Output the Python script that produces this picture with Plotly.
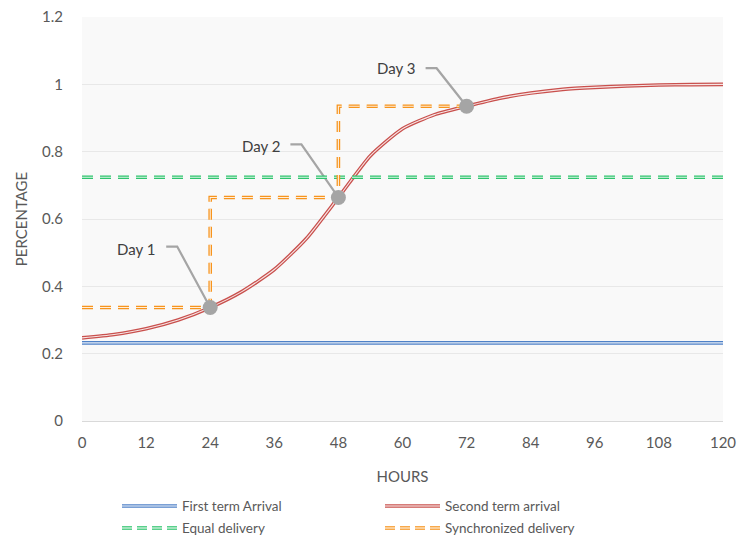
import plotly.graph_objects as go

# ---------------- data ----------------
hours = [0, 6, 12, 18, 24, 30, 36, 42, 48, 54, 60, 66, 72, 78, 84, 90, 96, 102, 108, 114, 120]
second_term_arrival = [0.247, 0.257, 0.274, 0.300, 0.337, 0.385, 0.450, 0.542, 0.664, 0.788, 0.868, 0.910,
                       0.935, 0.958, 0.974, 0.985, 0.991, 0.995, 0.998, 0.999, 1.000]
first_term_hours = [0, 120]
first_term_arrival = [0.232, 0.232]
equal_hours = [0, 120]
equal_delivery = [0.724, 0.724]
sync_hours = [0, 24, 24, 48, 48, 72]
sync_delivery = [0.337, 0.337, 0.664, 0.664, 0.935, 0.935]
day_hours = [24, 48, 72]
day_values = [0.337, 0.664, 0.935]
day_labels = ["Day 1", "Day 2", "Day 3"]
x_ticks = [0, 12, 24, 36, 48, 60, 72, 84, 96, 108, 120]
y_ticks = [0, 0.2, 0.4, 0.6, 0.8, 1.0, 1.2]
y_tick_text = ["0", "0.2", "0.4", "0.6", "0.8", "1", "1.2"]
series_names = ["First term Arrival", "Second term arrival", "Equal delivery", "Synchronized delivery"]

# ---------------- style ----------------
FONT = "Lato"
TXT = "#595959"
BLUE = "#4f81c7"
RED = "#c9504d"
GREEN = "#2fc46e"
ORANGE = "#f7941d"
GRAY = "#a5a5a5"
DASH = "11px,7px"

fig = go.Figure()


def double_line(x, y, color, dash=None, shape="linear", outer=3.6, inner=1.1):
    fig.add_trace(go.Scatter(x=x, y=y, mode="lines", line=dict(color=color, width=outer, dash=dash, shape=shape,
                                                                smoothing=0.6),
                             showlegend=False, hoverinfo="skip"))
    fig.add_trace(go.Scatter(x=x, y=y, mode="lines", line=dict(color="white", width=inner, dash=dash, shape=shape,
                                                                smoothing=0.6),
                             showlegend=False, hoverinfo="skip", opacity=0.85))


double_line(first_term_hours, first_term_arrival, BLUE)
double_line(hours, second_term_arrival, RED, shape="spline")
double_line(equal_hours, equal_delivery, GREEN, dash=DASH)
double_line(sync_hours, sync_delivery, ORANGE, dash=DASH)

fig.add_trace(go.Scatter(x=day_hours, y=day_values, mode="markers",
                         marker=dict(color=GRAY, size=15, line=dict(width=0)),
                         showlegend=False, hoverinfo="skip"))

# leader lines + labels
leader_paths = ["M0,0 L-33,61 L-44,61", "M0,0 L-37,53 L-48,53", "M0,0 L-30,38 L-41,38"]
label_shift = [(-53, 59), (-56, 51), (-50, 38)]
for hx, hv, lab, path, (dx, dy) in zip(day_hours, day_values, day_labels, leader_paths, label_shift):
    fig.add_shape(type="path", xref="x", yref="y", xsizemode="pixel", ysizemode="pixel",
                  xanchor=hx, yanchor=hv, path=path, line=dict(color=GRAY, width=2.2), layer="between")
    fig.add_annotation(x=hx, y=hv, xref="x", yref="y", text=lab, showarrow=False,
                       xanchor="right", yanchor="middle", xshift=dx, yshift=dy,
                       font=dict(family=FONT, size=15, color="#404040"))

# manual legend (two columns)
W = 641.0
H = 404.0
def px(xp):
    return (xp - 82) / W
def py(yp):
    return (421 - yp) / H

legend_spec = [
    (122, 506, BLUE, None),
    (385, 506, RED, None),
    (122, 528, GREEN, "dash"),
    (385, 528, ORANGE, "dash"),
]
for (lx, ly, col, dsh), name in zip(legend_spec, series_names):
    if dsh is None:
        fig.add_shape(type="line", xref="paper", yref="paper", x0=px(lx), x1=px(lx + 55), y0=py(ly), y1=py(ly),
                      line=dict(color=col, width=3.6))
        fig.add_shape(type="line", xref="paper", yref="paper", x0=px(lx), x1=px(lx + 55), y0=py(ly), y1=py(ly),
                      line=dict(color="white", width=1.1))
    else:
        for k in range(4):
            sx = lx + k * 15
            fig.add_shape(type="line", xref="paper", yref="paper", x0=px(sx), x1=px(sx + 10), y0=py(ly), y1=py(ly),
                          line=dict(color=col, width=3.6))
            fig.add_shape(type="line", xref="paper", yref="paper", x0=px(sx), x1=px(sx + 10), y0=py(ly), y1=py(ly),
                          line=dict(color="white", width=1.1))
    fig.add_annotation(x=px(lx + 58), y=py(ly), xref="paper", yref="paper", text=name, showarrow=False,
                       xanchor="left", yanchor="middle", font=dict(family=FONT, size=13.5, color=TXT))

fig.update_layout(
    width=739, height=541,
    margin=dict(l=82, r=16, t=17, b=120),
    paper_bgcolor="white",
    plot_bgcolor="#f9f9f9",
    showlegend=False,
    font=dict(family=FONT, size=15, color=TXT),
    xaxis=dict(range=[0, 120], tickvals=x_ticks, ticktext=[str(t) for t in x_ticks],
               showgrid=False, zeroline=False, showline=True, linecolor="#d9d9d9", linewidth=1,
               ticks="", ticklabelstandoff=8, automargin=False,
               title=dict(text="HOURS", font=dict(family=FONT, size=15, color=TXT), standoff=21),
               tickfont=dict(family=FONT, size=15, color=TXT), fixedrange=True),
    yaxis=dict(range=[0, 1.2], tickvals=y_ticks, ticktext=y_tick_text,
               showgrid=True, gridcolor="#e8e8e8", gridwidth=1, zeroline=False, showline=False,
               ticks="", ticklabelstandoff=18, automargin=False,
               title=dict(text="PERCENTAGE", font=dict(family=FONT, size=15, color=TXT), standoff=10),
               tickfont=dict(family=FONT, size=15, color=TXT), fixedrange=True),
)

fig.write_html("out.html", config={"displayModeBar": False},
               post_script="document.body.style.margin='0px';document.body.style.padding='0px';")
